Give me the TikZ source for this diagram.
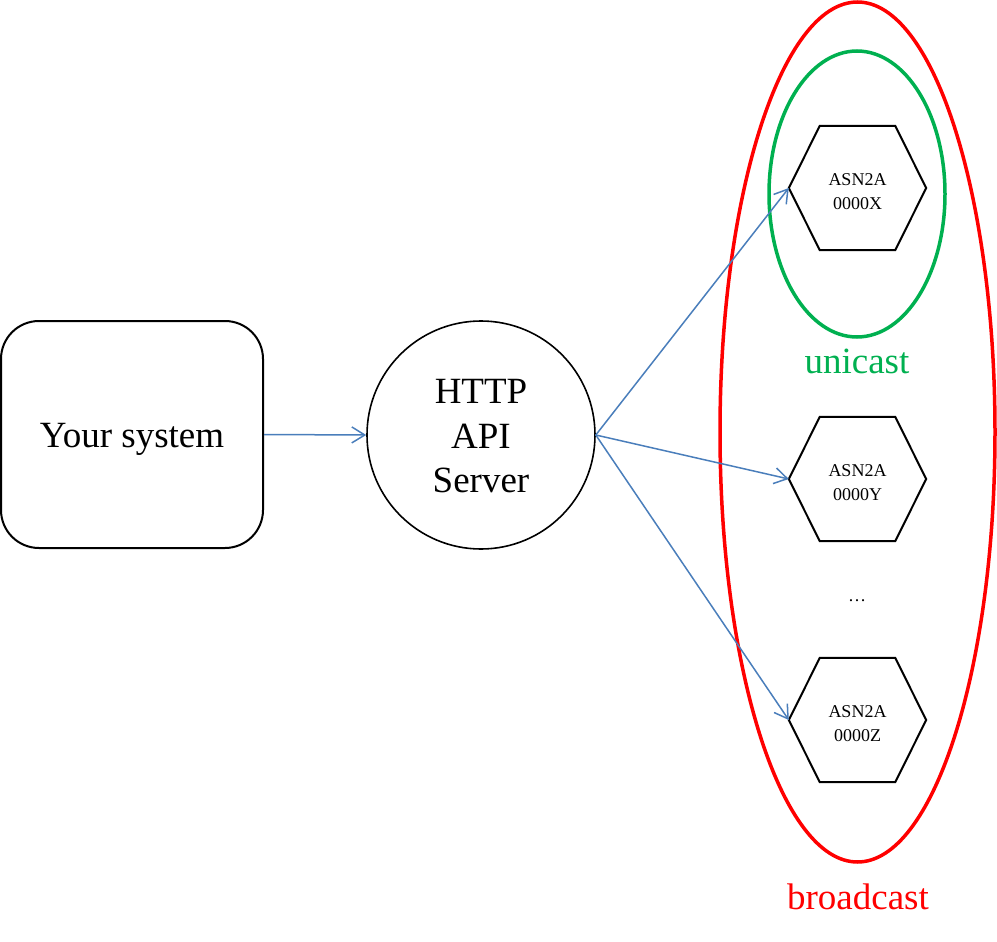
\documentclass[tikz,border=0pt]{standalone}
\usepackage{fontspec}
\setmainfont{Liberation Serif}
\usetikzlibrary{arrows.meta,calc,shapes.geometric}
\definecolor{arrowblue}{HTML}{4A7EBB}
\definecolor{unigreen}{HTML}{00B050}
\definecolor{bcred}{HTML}{FF0000}
\begin{document}
\begin{tikzpicture}[x=1pt,y=-1pt,
  bigtext/.style={font=\fontsize{37}{44.5}\selectfont},
  hextext/.style={font=\fontsize{18}{24}\selectfont},
  sysbox/.style={draw=black, line width=2pt, rounded corners=38pt, minimum width=262pt, minimum height=227pt, inner sep=0pt, bigtext},
  srvcircle/.style={draw=black, line width=1.6pt, circle, minimum size=228pt, inner sep=0pt, align=center, bigtext},
  hexnode/.style={minimum width=137pt, minimum height=124pt, inner sep=0pt, align=center, hextext},
  hexline/.style={draw=black, line width=2pt, line join=miter},
  flow/.style={draw=arrowblue, line width=1.5pt, -{Straight Barb[length=13pt,width=16pt,line width=1.5pt]}},
  uniring/.style={draw=unigreen, line width=3.5pt},
  bcring/.style={draw=bcred, line width=3.5pt}
]
\useasboundingbox (0,0) rectangle (997,942);
\node[bcring, ellipse, minimum width=275pt, minimum height=860pt, inner sep=0pt] (bc) at (857.5,432) {};
\node[uniring, ellipse, minimum width=176pt, minimum height=286pt, inner sep=0pt] (uc) at (857,194) {};
\node[sysbox] (sys) at (132,434.5) {\rule{0pt}{34.5pt}Your system};
\node[srvcircle] (srv) at (481,435) {\rule{0pt}{27pt}HTTP\\API\\Server};
\node[hexnode] (hx) at (857.5,188) {\rule{0pt}{18.5pt}ASN2A\\0000X};
\node[hexnode] (hy) at (857.5,479) {\rule{0pt}{18.5pt}ASN2A\\0000Y};
\node[hexnode] (hz) at (857.5,720) {\rule{0pt}{18.5pt}ASN2A\\0000Z};
\foreach \n in {hx,hy,hz}
  \draw[hexline] (\n.west) -- ([xshift=31pt]\n.north west) -- ([xshift=-31pt]\n.north east) -- (\n.east) -- ([xshift=-31pt]\n.south east) -- ([xshift=31pt]\n.south west) -- cycle;
\node[hextext] (dots) at (857,601) {…};
\node[bigtext, text=unigreen, anchor=base] (ulabel) at (857,373) {unicast};
\node[bigtext, text=bcred, anchor=base] (blabel) at (858,909) {broadcast};
\draw[flow] (sys.east) -- (srv.west);
\draw[flow] (srv.east) -- (hx.west);
\draw[flow] (srv.east) -- (hy.west);
\draw[flow] (srv.east) -- (hz.west);
\end{tikzpicture}
\end{document}
